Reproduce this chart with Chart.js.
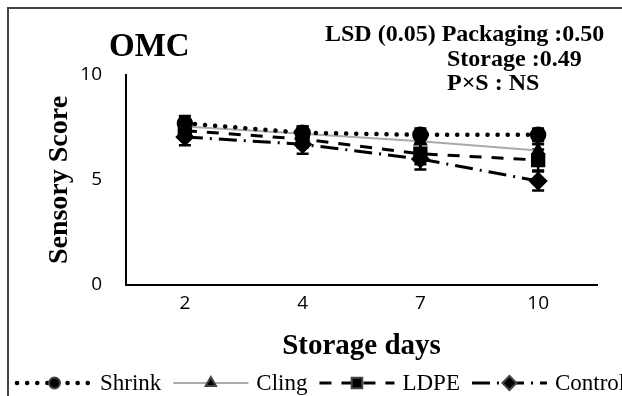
<!DOCTYPE html>
<html>
<head>
<meta charset="utf-8">
<script src="https://cdn.jsdelivr.net/npm/chart.js@4"></script>
<style>
  body { margin: 0; background: #fff; }
  #wrap { width: 622px; height: 396px; }
</style>
</head>
<body>
<div id="wrap"><canvas id="grafico" width="622" height="396"></canvas></div>
<script>
// datos
const dias = ['2', '4', '7', '10'];
const shrink = [7.7, 7.25, 7.15, 7.15];
const cling = [7.55, 7.2, 6.85, 6.4];
const ldpe = [7.35, 6.95, 6.25, 5.95];
const control = [7.05, 6.7, 6.0, 4.95];
const errShrink = [0.35, 0.3, 0.3, 0.3];
const errCling = [0.35, 0.35, 0.4, 0.3];
const errLdpe = [0.4, 0.4, 0.5, 0.5];
const errControl = [0.4, 0.45, 0.5, 0.45];
const yTicks = [0, 5, 10];
const titulo = 'OMC';
const notas = ['LSD (0.05) Packaging :0.50', 'Storage :0.49', 'P×S : NS'];

const serif = "'Liberation Serif', 'Times New Roman', serif";
const sans = "'Open Sans', 'Liberation Sans', sans-serif";

const serie = (label, data, err, estilo) => ({
  label, data, err,
  borderColor: '#000',
  backgroundColor: '#000',
  pointBackgroundColor: '#000',
  pointBorderColor: '#000',
  pointRadius: 6,
  pointHoverRadius: 6,
  tension: 0,
  fill: false,
  ...estilo
});

const datasets = [
  serie('Shrink', shrink, errShrink, { borderWidth: 4.5, borderDash: [0.1, 10], borderCapStyle: 'round', pointStyle: 'circle' }),
  serie('Cling', cling, errCling, { borderColor: '#aaaaaa', borderWidth: 2, pointStyle: 'triangle', pointRadius: 6.5 }),
  serie('LDPE', ldpe, errLdpe, { borderWidth: 3, borderDash: [12, 10], pointStyle: 'rect', pointRadius: 8 }),
  serie('Control', control, errControl, { borderWidth: 3, borderDash: [18, 7, 2, 7], pointStyle: 'rectRot', pointRadius: 7.5 })
];

// barras de error
const barrasError = {
  id: 'barrasError',
  beforeDatasetsDraw(chart) {
    const { ctx, scales: { y } } = chart;
    ctx.save();
    ctx.strokeStyle = '#000';
    ctx.lineWidth = 2.5;
    chart.data.datasets.forEach((ds, i) => {
      const meta = chart.getDatasetMeta(i);
      meta.data.forEach((pt, j) => {
        const top = y.getPixelForValue(ds.data[j] + ds.err[j]);
        const bot = y.getPixelForValue(ds.data[j] - ds.err[j]);
        ctx.beginPath();
        ctx.moveTo(pt.x, top); ctx.lineTo(pt.x, bot);
        ctx.moveTo(pt.x - 6, top); ctx.lineTo(pt.x + 6, top);
        ctx.moveTo(pt.x - 6, bot); ctx.lineTo(pt.x + 6, bot);
        ctx.stroke();
      });
    });
    ctx.restore();
  }
};

// marco, titulo, notas y leyenda
const extras = {
  id: 'extras',
  afterDraw(chart) {
    const { ctx } = chart;
    ctx.save();
    ctx.strokeStyle = '#444';
    ctx.lineWidth = 2;
    ctx.beginPath();
    ctx.moveTo(8, 400); ctx.lineTo(8, 8); ctx.lineTo(622, 8);
    ctx.stroke();

    ctx.fillStyle = '#000';
    ctx.textBaseline = 'alphabetic';
    ctx.font = `bold 33px ${serif}`;
    ctx.fillText(titulo, 109, 56);

    ctx.font = `bold 24px ${serif}`;
    ctx.fillText(notas[0], 325, 41);
    ctx.fillText(notas[1], 447, 66);
    ctx.fillText(notas[2], 447, 90);

    // leyenda
    const yl = 383;
    let x = 17;
    ctx.font = `23px ${serif}`;
    ctx.textBaseline = 'middle';
    chart.data.datasets.forEach((ds) => {
      const largo = 75;
      ctx.save();
      ctx.strokeStyle = ds.borderColor;
      ctx.lineWidth = ds.borderWidth;
      ctx.lineCap = ds.borderCapStyle || 'butt';
      ctx.setLineDash(ds.borderDash || []);
      ctx.beginPath();
      ctx.moveTo(x, yl); ctx.lineTo(x + largo, yl);
      ctx.stroke();
      ctx.restore();
      ctx.fillStyle = '#000';
      Chart.helpers.drawPoint(ctx, { pointStyle: ds.pointStyle, radius: ds.pointRadius - 0.5, borderWidth: 1, rotation: 0 }, x + largo / 2, yl);
      ctx.fillStyle = '#000';
      ctx.fillText(ds.label, x + largo + 8, yl + 1);
      x += largo + 8 + ctx.measureText(ds.label).width + 12;
    });
    ctx.restore();
  }
};

new Chart(document.getElementById('grafico'), {
  type: 'line',
  data: { labels: dias, datasets },
  options: {
    responsive: false,
    animation: false,
    events: [],
    layout: { padding: { top: 75, left: 43, right: 25, bottom: 30 } },
    plugins: { legend: { display: false }, tooltip: { enabled: false } },
    scales: {
      x: {
        offset: true,
        grid: { display: false, drawTicks: false, offset: true },
        border: { display: true, color: '#000', width: 2 },
        ticks: { color: '#000', font: { family: sans, size: 19 }, padding: 7 },
        title: { display: true, text: 'Storage days', color: '#000', font: { family: serif, size: 29, weight: 'bold' }, padding: { top: 0, bottom: 2 } },
        afterFit: (s) => { s.height = 81; }
      },
      y: {
        min: 0, max: 10,
        afterBuildTicks: (s) => { s.ticks = yTicks.map(v => ({ value: v })); },
        grid: { display: false, drawTicks: false },
        border: { display: true, color: '#000', width: 2 },
        ticks: { color: '#000', font: { family: sans, size: 19 }, padding: 24 },
        title: { display: true, text: 'Sensory Score', color: '#000', font: { family: serif, size: 28, weight: 'bold' }, padding: { top: 0, bottom: 0 } },
        afterFit: (s) => { s.width = 83; }
      }
    }
  },
  plugins: [barrasError, extras]
});
</script>
</body>
</html>
